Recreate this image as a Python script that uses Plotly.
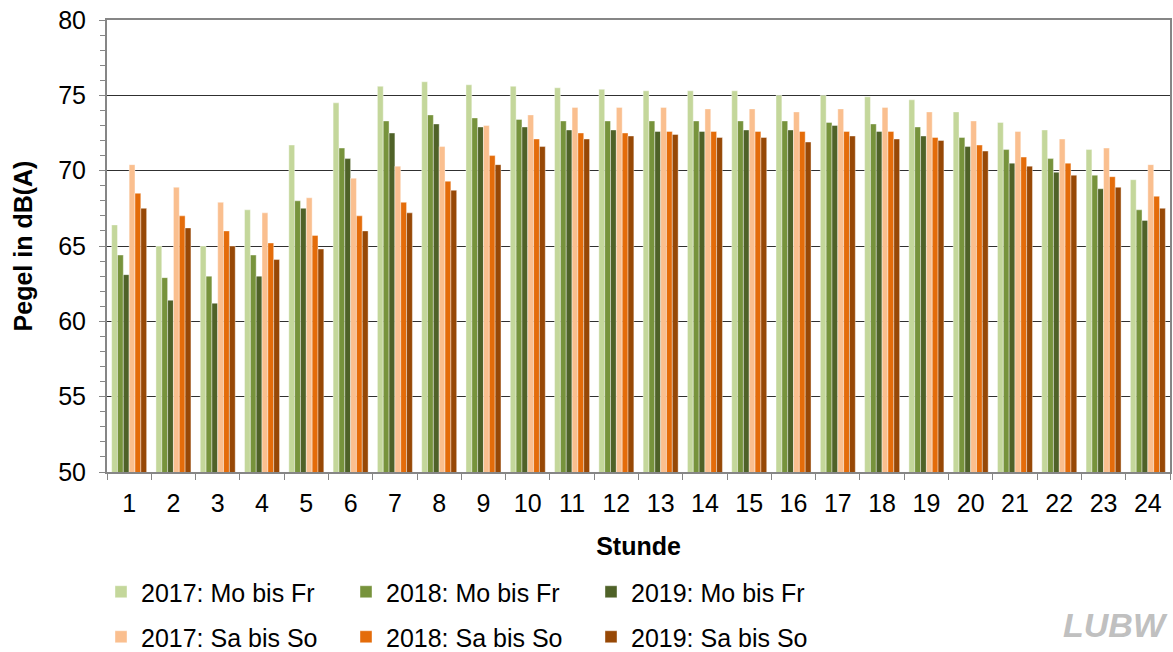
"""Stundenpegel Mo-Fr / Sa-So 2017-2019"""
import plotly.graph_objects as go

stunden = [str(h) for h in range(1, 25)]

mf_2017 = [66.4, 65.0, 65.0, 67.4, 71.7, 74.5, 75.6, 75.9, 75.7, 75.6, 75.5, 75.4,
           75.3, 75.3, 75.3, 75.0, 75.0, 74.9, 74.7, 73.9, 73.2, 72.7, 71.4, 69.4]
mf_2018 = [64.4, 62.9, 63.0, 64.4, 68.0, 71.5, 73.3, 73.7, 73.5, 73.4, 73.3, 73.3,
           73.3, 73.3, 73.3, 73.3, 73.2, 73.1, 72.9, 72.2, 71.4, 70.8, 69.7, 67.4]
mf_2019 = [63.1, 61.4, 61.2, 63.0, 67.5, 70.8, 72.5, 73.1, 72.9, 72.9, 72.7, 72.7,
           72.6, 72.6, 72.7, 72.7, 73.0, 72.6, 72.3, 71.6, 70.5, 69.9, 68.8, 66.7]
ss_2017 = [70.4, 68.9, 67.9, 67.2, 68.2, 69.5, 70.3, 71.6, 73.0, 73.7, 74.2, 74.2,
           74.2, 74.1, 74.1, 73.9, 74.1, 74.2, 73.9, 73.3, 72.6, 72.1, 71.5, 70.4]
ss_2018 = [68.5, 67.0, 66.0, 65.2, 65.7, 67.0, 67.9, 69.3, 71.0, 72.1, 72.5, 72.5,
           72.6, 72.6, 72.6, 72.6, 72.6, 72.6, 72.2, 71.7, 70.9, 70.5, 69.6, 68.3]
ss_2019 = [67.5, 66.2, 65.0, 64.1, 64.8, 66.0, 67.2, 68.7, 70.4, 71.6, 72.1, 72.3,
           72.4, 72.2, 72.2, 71.9, 72.3, 72.1, 72.0, 71.3, 70.3, 69.7, 68.9, 67.5]

serien = [
    ("2017: Mo bis Fr", mf_2017, "#C4D79B", "legend"),
    ("2018: Mo bis Fr", mf_2018, "#77933C", "legend"),
    ("2019: Mo bis Fr", mf_2019, "#4F6228", "legend"),
    ("2017: Sa bis So", ss_2017, "#FABF8F", "legend2"),
    ("2018: Sa bis So", ss_2018, "#E46C0A", "legend2"),
    ("2019: Sa bis So", ss_2019, "#974806", "legend2"),
]

FONT = "Liberation Sans, Arial, sans-serif"
FS = 25

fig = go.Figure()
for name, werte, farbe, leg in serien:
    fig.add_trace(go.Bar(
        x=stunden, y=werte, name=name, legend=leg,
        marker=dict(color=farbe, line=dict(color="rgba(255,255,255,0.5)", width=0.8)),
    ))

# Legenden am Container verankert, damit sie die Ränder nicht verschieben
legend_style = dict(
    orientation="h", xanchor="left", yanchor="middle",
    xref="container", yref="container", x=101 / 1173,
    font=dict(family=FONT, size=FS, color="#000000"),
    entrywidth=200, entrywidthmode="pixels", itemwidth=30,
    bgcolor="rgba(0,0,0,0)",
)

fig.update_layout(
    barmode="group",
    bargap=0.21,
    bargroupgap=0,
    plot_bgcolor="white",
    paper_bgcolor="white",
    font=dict(family=FONT, size=FS, color="#000000"),
    width=1173, height=652,
    margin=dict(l=107, r=3, t=20, b=180),
    xaxis=dict(
        type="category",
        automargin=False,
        tickson="boundaries",
        ticks="outside", ticklen=6, tickcolor="#868686",
        ticklabelstandoff=8,
        showline=True, linecolor="#868686", linewidth=2, mirror=True,
        showgrid=False,
        tickfont=dict(family=FONT, size=FS),
        title=dict(text="<b>Stunde</b>", font=dict(family=FONT, size=FS), standoff=21),
    ),
    yaxis=dict(
        range=[50, 80], dtick=5,
        automargin=False,
        ticks="outside", ticklen=6, tickcolor="#868686",
        ticklabelstandoff=8,
        showline=True, linecolor="#868686", linewidth=2, mirror=True,
        showgrid=True, gridcolor="#303030", gridwidth=1.3,
        zeroline=False,
        minor=dict(dtick=1, ticks="outside", ticklen=5, tickcolor="#868686", showgrid=False),
        tickfont=dict(family=FONT, size=FS),
        title=dict(text="<b>Pegel in dB(A)</b>", font=dict(family=FONT, size=FS), standoff=18),
    ),
    legend=dict(legend_style, y=(652 - 592) / 652),
    legend2=dict(legend_style, y=(652 - 637) / 652),
    annotations=[dict(
        text="<b>LUBW</b>", xref="paper", yref="paper", x=1.0, y=-0.385,
        xanchor="right", yanchor="bottom", showarrow=False,
        font=dict(family=FONT, size=34, color="#C0C0C0", style="italic"),
    )],
)

fig.write_html("out.html", config={"displayModeBar": False},
               post_script="document.body.style.margin='0';")
